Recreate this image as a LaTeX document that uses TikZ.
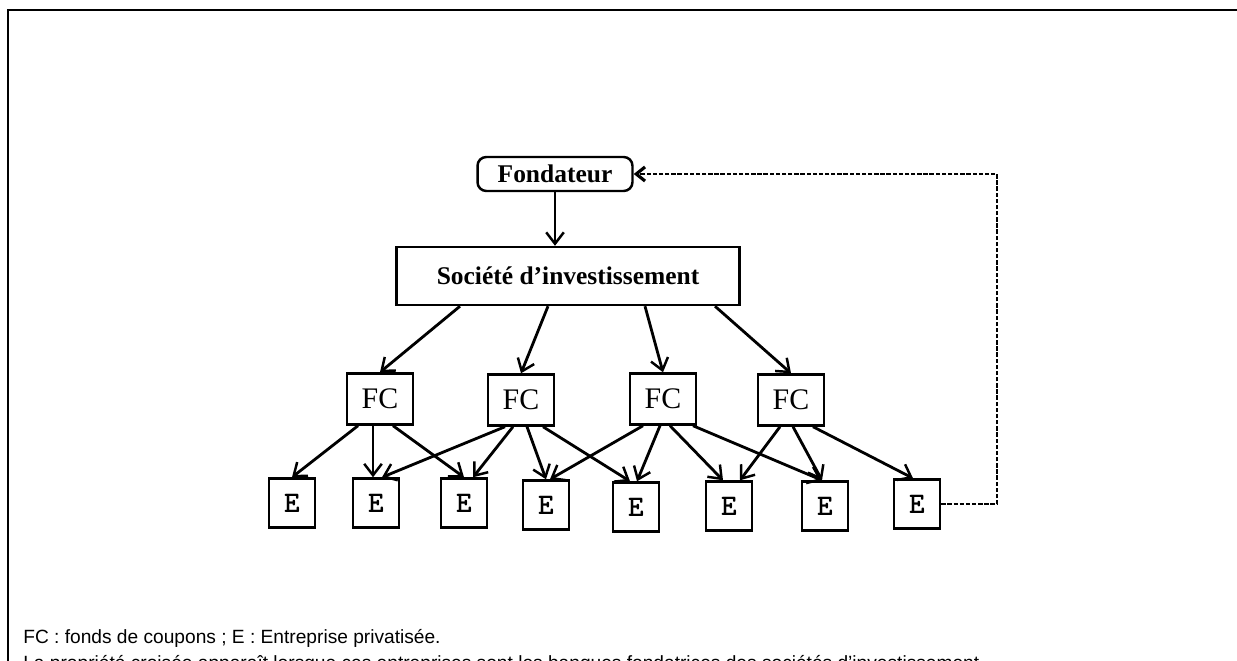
\documentclass[tikz,border=0pt]{standalone}
\usepackage{fontspec}
\setmainfont{Liberation Serif}
\newfontfamily\notefont{Liberation Sans}
\usetikzlibrary{calc, arrows.meta}

\begin{document}
\begin{tikzpicture}[x=0.02cm, y=-0.02cm,
  box/.style={draw, line width=1.4pt, inner sep=0pt},
  fcbox/.style={box, minimum width=1.32cm, minimum height=1.02cm, font=\fontsize{17}{17}\selectfont},
  ebox/.style={box, minimum width=0.92cm, minimum height=0.98cm, font=\ttfamily\bfseries\fontsize{17}{17}\selectfont},
  link/.style={line width=1.6pt, -{Straight Barb[length=6.5pt, width=10pt, line width=1.4pt]}},
  back/.style={line width=0.9pt, dash pattern=on 2.5pt off 1pt, -{Straight Barb[length=5pt, width=8pt, line width=1.8pt]}},
  note/.style={anchor=base west, inner sep=0pt, font=\notefont\fontsize{10.9}{10.9}\selectfont}]
\useasboundingbox (0,0) rectangle (1237,661);
\draw[line width=1pt] (8,661) -- (8,10) -- (1237,10);

\node[box, rounded corners=5pt, minimum width=3.1cm, minimum height=0.68cm, font=\bfseries\fontsize{14.5}{14.5}\selectfont] (fond) at (555,174) {Fondateur};
\node[box, minimum width=6.86cm, minimum height=1.16cm, font=\bfseries\fontsize{14.5}{14.5}\selectfont] (soc) at (568,276) {Société d'investissement};

\node[fcbox] (fc1) at (380,399) {FC};
\node[fcbox] (fc2) at (521,400) {FC};
\node[fcbox] (fc3) at (663,399) {FC};
\node[fcbox] (fc4) at (791,400) {FC};

\node[ebox] (e1) at (292,503) {E};
\node[ebox] (e2) at (376,503) {E};
\node[ebox] (e3) at (464,503) {E};
\node[ebox] (e4) at (546,505) {E};
\node[ebox] (e5) at (636,507) {E};
\node[ebox] (e6) at (729,506) {E};
\node[ebox] (e7) at (825,506) {E};
\node[ebox] (e8) at (917,504) {E};

\draw[link] (fond.south) -- (fond.south |- soc.north);
\draw[link] ($(soc.south)+(-108,0)$) -- (fc1.north);
\draw[link] ($(soc.south)+(-20,0)$) -- (fc2.north);
\draw[link] ($(soc.south)+(77,0)$) -- (fc3.north);
\draw[link] ($(soc.south)+(147,0)$) -- (fc4.north);

% fonds de coupons -> entreprises
\foreach \f/\s/\e/\t in {1/-22/1/0, 1/-7/2/-3, 1/13/3/0,
  2/-16/2/6, 2/-8/3/9, 2/6/4/0, 2/22/5/-6,
  3/-20/4/4, 3/-3/5/1, 3/7/6/-6, 3/30/7/-3,
  4/-11/6/11, 4/2/7/-3, 4/22/8/-4}
  \draw[link] ($(fc\f.south)+(\s,0)$) -- ($(e\e.north)+(\t,0)$);

\coordinate (turn) at (997,174);
\draw[back] (e8.east) -| (turn) -- (fond.east);

\node[note] (leg) at (23,643) {FC : fonds de coupons ; E : Entreprise privatisée.};
\node[note] (prop) at (23,669) {La propriété croisée apparaît lorsque ces entreprises sont les banques fondatrices des sociétés d’investissement};
\end{tikzpicture}
\end{document}
